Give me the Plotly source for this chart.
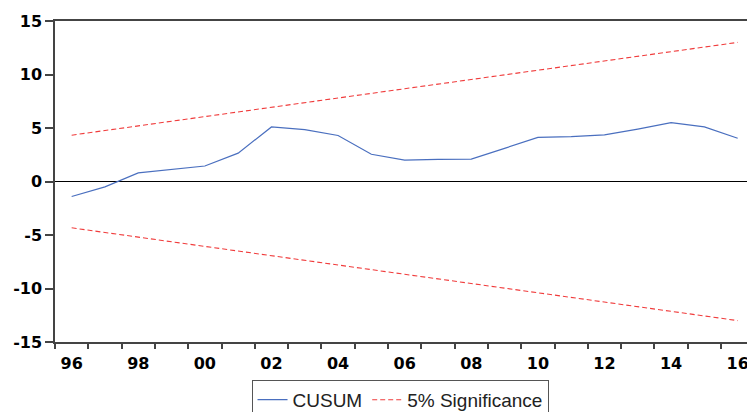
import plotly.graph_objects as go

years = list(range(1996, 2017))
cusum = [-1.4, -0.5, 0.8, 1.1, 1.45, 2.65, 5.1, 4.85, 4.3, 2.55, 2.0,
         2.07, 2.1, 3.1, 4.13, 4.19, 4.35, 4.9, 5.5, 5.1, 4.04]
upper = [4.33, 4.77, 5.20, 5.63, 6.07, 6.50, 6.93, 7.37, 7.80, 8.23, 8.67,
         9.10, 9.53, 9.97, 10.40, 10.83, 11.27, 11.70, 12.13, 12.57, 13.00]
lower = [-4.33, -4.77, -5.20, -5.63, -6.07, -6.50, -6.93, -7.37, -7.80, -8.23, -8.67,
         -9.10, -9.53, -9.97, -10.40, -10.83, -11.27, -11.70, -12.13, -12.57, -13.00]
xtick_vals = list(range(1996, 2017, 2))
xtick_text = ["96", "98", "00", "02", "04", "06", "08", "10", "12", "14", "16"]
year_bounds = [y - 0.5 for y in range(1996, 2017)]
ytick_vals = [-15, -10, -5, 0, 5, 10, 15]
ytick_text = ["-15", "-10", "-5", "0", "5", "10", "15"]

fig = go.Figure()
fig.add_trace(go.Scatter(x=years, y=cusum, mode="lines", name="CUSUM",
                         line=dict(color="#4a6fbf", width=1.2)))
fig.add_trace(go.Scatter(x=years, y=upper, mode="lines", name="5% Significance",
                         line=dict(color="#f03c3c", width=1.1, dash="5px,3px")))
fig.add_trace(go.Scatter(x=years, y=lower, mode="lines", name="5% Significance",
                         showlegend=False,
                         line=dict(color="#f03c3c", width=1.1, dash="5px,3px")))

tickfont = dict(family="DejaVu Sans", size=16, color="black", weight="bold")

fig.update_layout(
    width=747, height=412,
    margin=dict(l=55, r=0, t=21, b=70),
    paper_bgcolor="white", plot_bgcolor="white",
    showlegend=True,
    legend=dict(orientation="h", x=0.4986, xanchor="center",
                yref="container", y=0.078, yanchor="top",
                bordercolor="#555555", borderwidth=1, bgcolor="white",
                font=dict(family="Liberation Sans", size=19, color="#222222")),
    xaxis=dict(range=[1995.5, 2016.28], showgrid=False, zeroline=False, automargin=False,
               tickvals=xtick_vals, ticktext=xtick_text, ticks="outside",
               ticklabeloverflow="allow",
               ticklen=6, tickcolor="rgba(0,0,0,0)", tickfont=tickfont,
               showline=True, linecolor="#444444", linewidth=1.5, mirror=True,
               minor=dict(tickvals=year_bounds, ticks="outside", ticklen=5,
                          tickcolor="#444444", tickwidth=1.5, showgrid=False)),
    yaxis=dict(range=[-15, 15], showgrid=False, tickvals=ytick_vals, ticktext=ytick_text,
               automargin=False,
               ticks="outside", ticklen=8, tickcolor="#444444", tickwidth=1.5,
               tickfont=tickfont, showline=True, linecolor="#444444", linewidth=1.5,
               zeroline=True, zerolinecolor="black", zerolinewidth=1.2),
)

fig.write_html("out.html", config={"displayModeBar": False},
               post_script="document.body.style.margin='0px';document.body.style.overflow='hidden';")
